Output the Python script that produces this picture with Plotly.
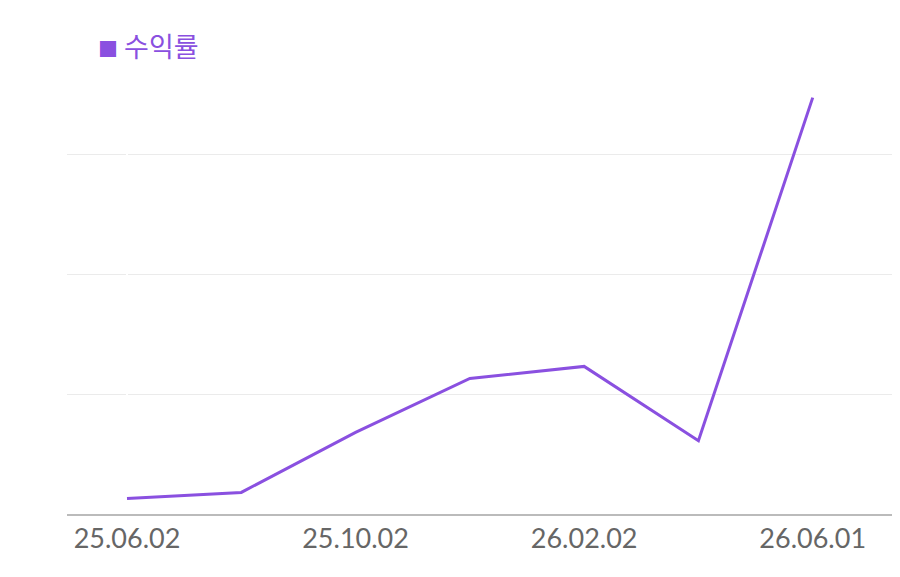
import plotly.graph_objects as go

dates = ['25.06.02', '25.08.02', '25.10.02', '25.12.02', '26.02.02', '26.04.02', '26.06.01']
returns = [1.3, 1.8, 6.8, 11.3, 12.3, 6.1, 34.7]
tick_labels = ['25.06.02', '25.10.02', '26.02.02', '26.06.01']

purple = '#8a50e0'

fig = go.Figure(
    go.Scatter(
        x=list(range(len(dates))),
        y=returns,
        mode='lines',
        line=dict(color=purple, width=3),
        name='수익률',
    )
)

tick_pos = [dates.index(t) for t in tick_labels]

# page body adds an 8px offset, so margins are shifted to compensate
l, r, t, b = 59, 13, 80, 71
pw, ph = 900 - l - r, 577 - t - b

fig.update_layout(
    width=900, height=577,
    margin=dict(l=l, r=r, t=t, b=b),
    plot_bgcolor='white', paper_bgcolor='white',
    font=dict(family='Lato, Noto Sans CJK KR', size=27, color='#666'),
    showlegend=False,
    xaxis=dict(
        range=[-0.525, 6.72], tickvals=tick_pos, ticktext=tick_labels,
        showgrid=False, showline=True, linecolor='#bbb', linewidth=2,
        ticks='', tickfont=dict(size=27, color='#666'),
    ),
    yaxis=dict(
        range=[0, 35.5], dtick=10, showticklabels=False,
        gridcolor='#ebebeb', zeroline=False,
    ),
    annotations=[dict(
        xref='paper', yref='paper',
        x=(96 - 8 - l) / pw, y=(577 - 38 - b) / ph,
        xanchor='left', yanchor='middle', showarrow=False,
        text='<span style="font-size:20px">■</span> 수익률',
        font=dict(color=purple, size=27, family='Noto Sans CJK KR'),
    )],
)

fig.write_html("out.html")
